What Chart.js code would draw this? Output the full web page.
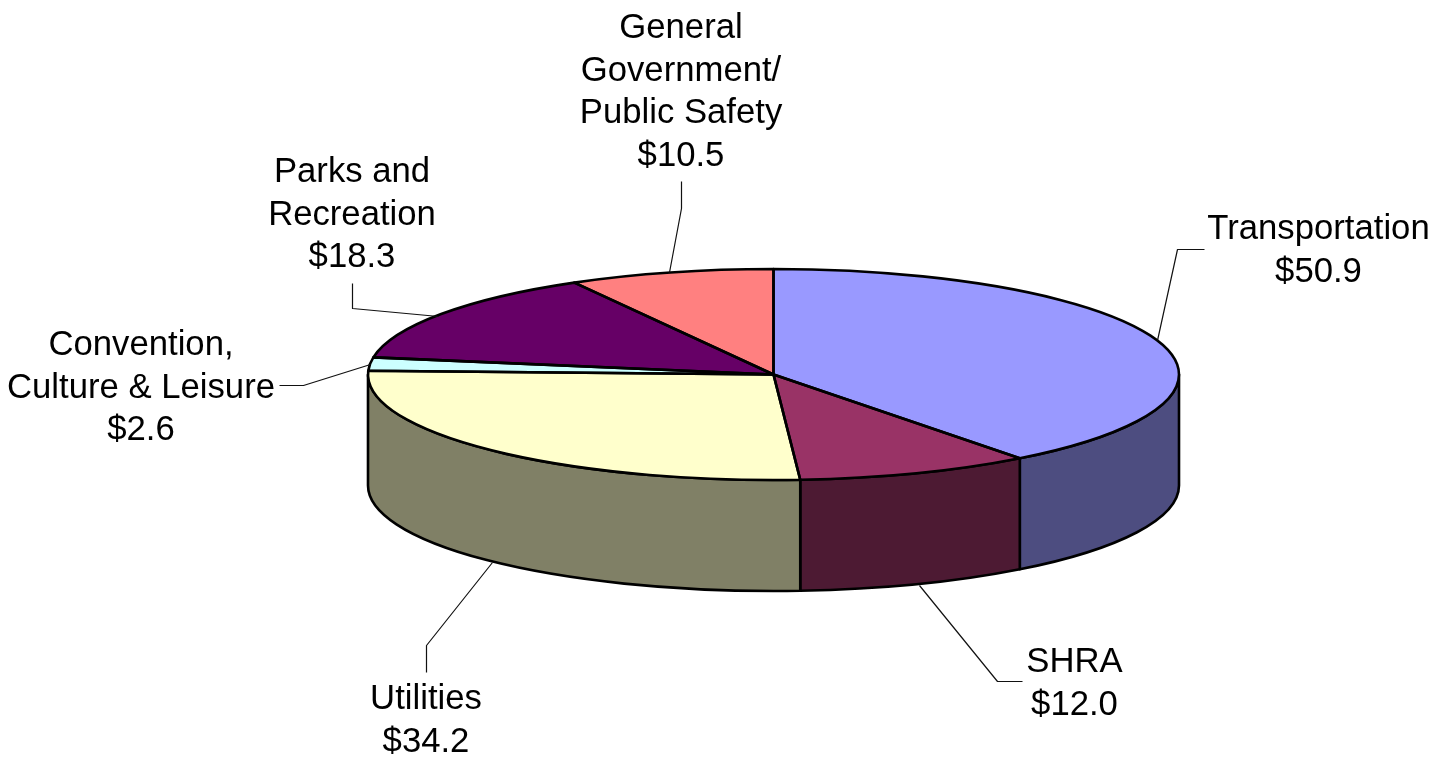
<!DOCTYPE html>
<html><head><meta charset="utf-8">
<style>html,body{margin:0;padding:0;background:#fff}#w{width:1450px;height:757px}</style>
<script src="https://cdn.jsdelivr.net/npm/chart.js@4"></script>
</head><body><div id="w"><canvas id="c" width="1450" height="757"></canvas></div>
<script>
const categories = ["Transportation","SHRA","Utilities","Convention, Culture & Leisure","Parks and Recreation","General Government/ Public Safety"];
const values = [50.9,12.0,34.2,2.6,18.3,10.5];
const topColors = ["#9999FF","#993366","#FFFFCC","#CCFFFF","#660066","#FF8080"];
const sideColors = ["#4D4D80","#4D1A33","#808066","#668080","#330033","#804040"];
const labelLines = [["Transportation"],["SHRA"],["Utilities"],["Convention,","Culture & Leisure"],["Parks and","Recreation"],["General","Government/","Public Safety"]];
const labelCenters = [1318.5,1074.5,426,141,352,681];
const labelFirstBaselines = [239,672,709,355,182,38];
const leaders = [
 [[1157,340],[1177,249],[1204,249]],
 [[919,585],[997,681],[1022,681]],
 [[492,562],[426,645],[426,672]],
 [[370,364],[303,385],[279,385]],
 [[438,316],[352,308],[352,283]],
 [[669,272],[681,208],[681,181]]
];
const CX=773.5, CY=374.5, RX=405.5, RY=105.5, DEPTH=111, LINE=2.6;
const FONT='34.7px "Liberation Sans", Arial, sans-serif', LH=42.5;

const pie3d={id:'pie3d',
 beforeDatasetsDraw(chart){
  const ctx=chart.ctx, arcs=chart.getDatasetMeta(0).data, a0=arcs[0];
  ctx.lineJoin='round';
  arcs.forEach((arc,i)=>{
   const s=Math.max(arc.startAngle,0), e=Math.min(arc.endAngle,Math.PI);
   if(e<=s) return;
   ctx.beginPath();
   ctx.ellipse(CX,CY,RX,RY,0,s,e);
   ctx.lineTo(CX+RX*Math.cos(e),CY+RY*Math.sin(e)+DEPTH);
   ctx.ellipse(CX,CY+DEPTH,RX,RY,0,e,s,true);
   ctx.closePath();
   ctx.fillStyle=sideColors[i];ctx.fill();
   ctx.strokeStyle='#000';ctx.lineWidth=LINE;ctx.stroke();
  });
  ctx.save();
  ctx.translate(CX,CY);
  ctx.scale(RX/a0.outerRadius,RY/a0.outerRadius);
  ctx.translate(-a0.x,-a0.y);
 },
 afterDatasetsDraw(chart){
  const ctx=chart.ctx, arcs=chart.getDatasetMeta(0).data;
  ctx.restore();
  ctx.lineJoin='round';
  arcs.forEach(arc=>{
   ctx.beginPath();ctx.moveTo(CX,CY);
   ctx.ellipse(CX,CY,RX,RY,0,arc.startAngle,arc.endAngle);
   ctx.closePath();ctx.strokeStyle='#000';ctx.lineWidth=LINE;ctx.stroke();
  });
  ctx.lineWidth=1.2;ctx.strokeStyle='#111';
  leaders.forEach(p=>{ctx.beginPath();p.forEach((q,i)=>i?ctx.lineTo(q[0]+.5,q[1]+.5):ctx.moveTo(q[0]+.5,q[1]+.5));ctx.stroke();});
  ctx.fillStyle='#000';ctx.font=FONT;ctx.textAlign='center';ctx.textBaseline='alphabetic';
  labelLines.forEach((ls,i)=>{
   const all=[...ls,'$'+values[i].toFixed(1)];
   all.forEach((t,j)=>ctx.fillText(t,labelCenters[i],labelFirstBaselines[i]+j*LH));
  });
 }
};
new Chart(document.getElementById('c'),{
 type:'pie',
 data:{labels:categories,datasets:[{data:values,backgroundColor:topColors,borderWidth:0}]},
 options:{responsive:false,animation:false,rotation:0,
  layout:{padding:0},
  plugins:{legend:{display:false},tooltip:{enabled:false}}},
 plugins:[pie3d]
});
</script></body></html>
